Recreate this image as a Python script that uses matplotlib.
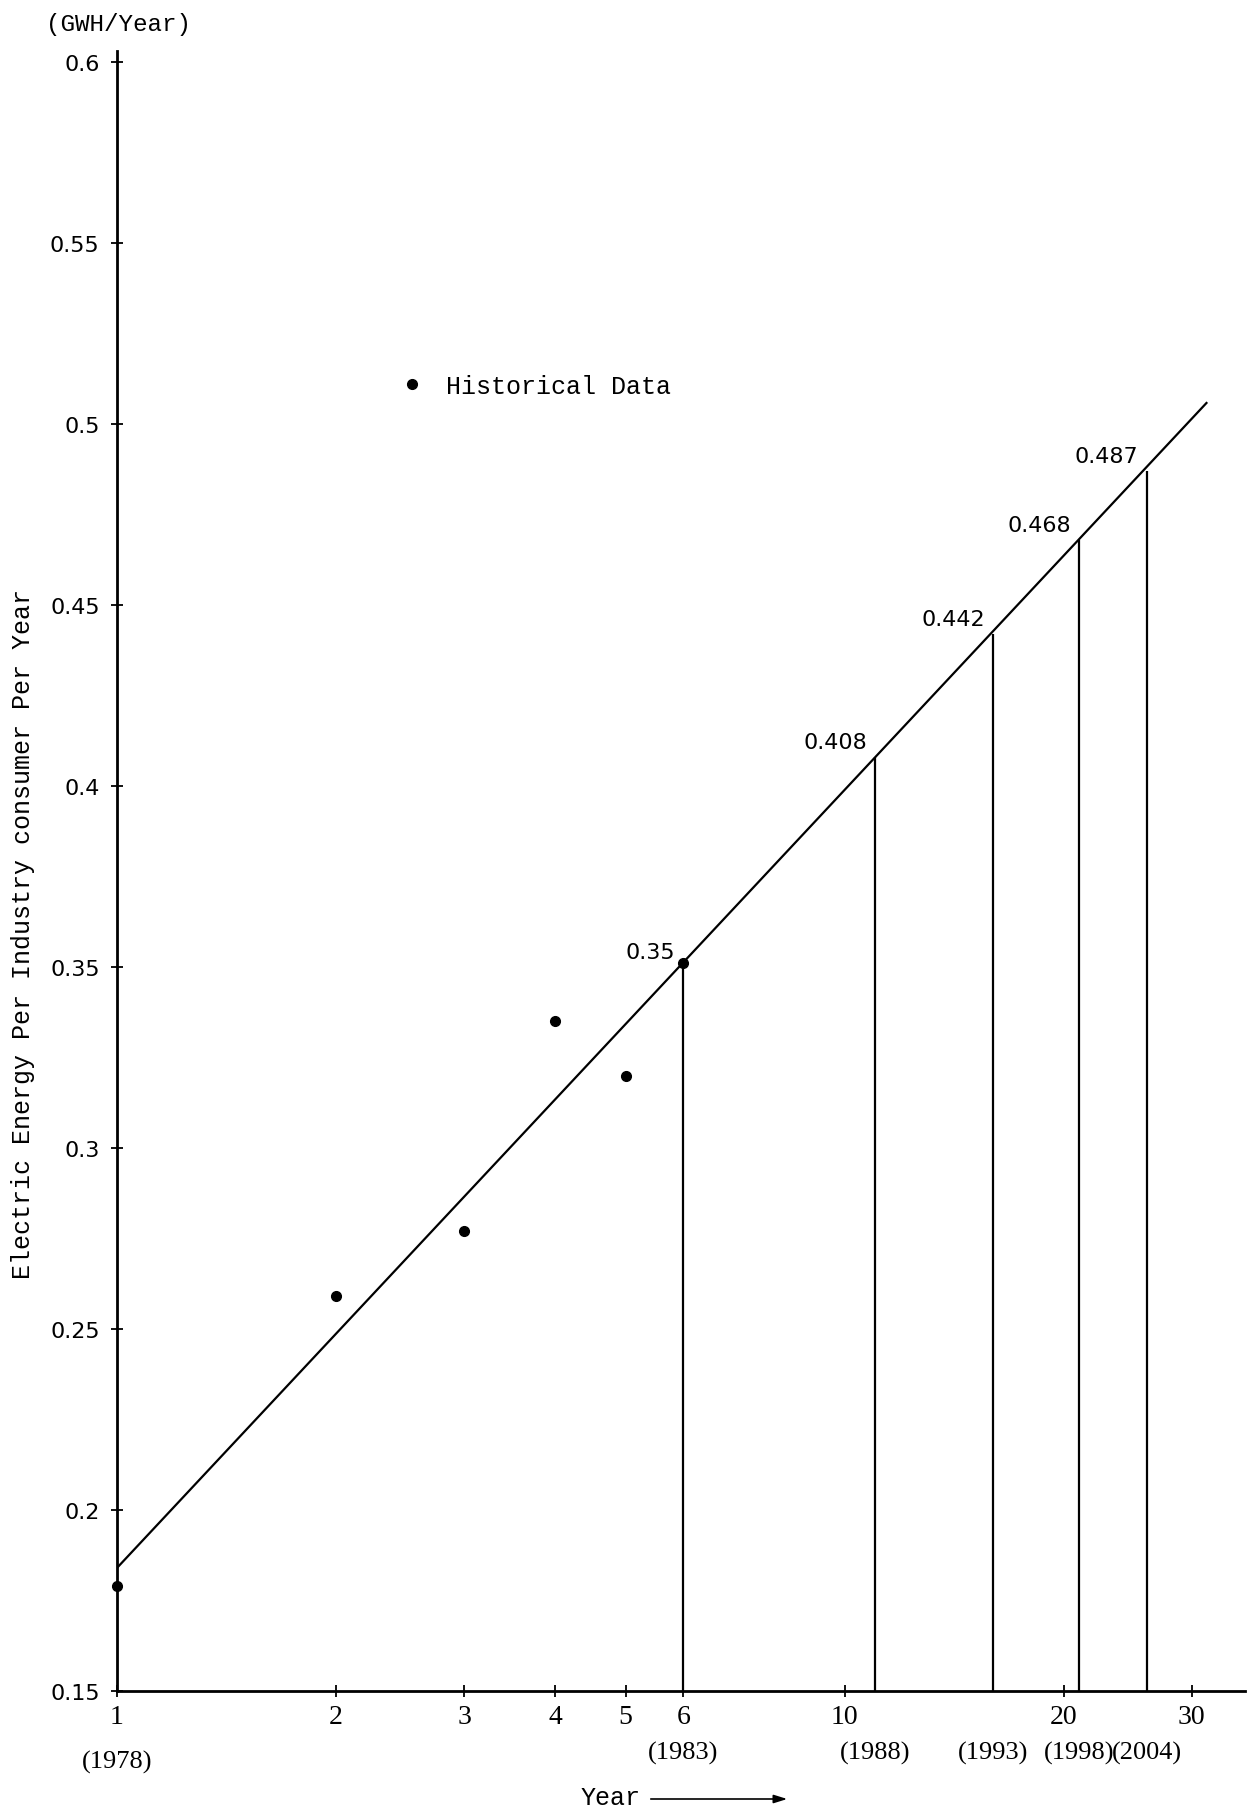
import matplotlib
matplotlib.use("Agg")
import matplotlib.pyplot as plt
from matplotlib.lines import Line2D
from matplotlib.patches import FancyArrowPatch

# Historical consumption per industrial consumer (year index 1 = 1978)
hist_x = [1, 2, 3, 4, 5, 6]
hist_y = [0.179, 0.259, 0.277, 0.335, 0.320, 0.351]

# Fitted trend line (straight on a log year axis)
fit_x = [1, 31.5]
fit_y = [0.184, 0.506]

# Forecast points marked on the trend
fc_x = [6, 11, 16, 21, 26]
fc_y = [0.35, 0.408, 0.442, 0.468, 0.487]
fc_labels = ["0.35", "0.408", "0.442", "0.468", "0.487"]
fc_years = ["(1983)", "(1988)", "(1993)", "(1998)", "(2004)"]
base_year = "(1978)"

x_ticks = [1, 2, 3, 4, 5, 6, 10, 20, 30]
y_ticks = [0.15, 0.2, 0.25, 0.3, 0.35, 0.4, 0.45, 0.5, 0.55, 0.6]
y_tick_labels = ["0.15", "0.2", "0.25", "0.3", "0.35", "0.4", "0.45", "0.5", "0.55", "0.6"]

MONO = "Liberation Mono"
SERIF = "Liberation Serif"
SANS = "DejaVu Sans"

W, H = 1247, 1815
fig = plt.figure(figsize=(W / 100, H / 100), dpi=100)
ax = fig.add_axes([117 / W, 123 / H, 1128 / W, 1640 / H])

ax.set_xscale("log")
ax.set_xlim(1, 35.5)
ax.set_ylim(0.15, 0.603)

for side in ("top", "right"):
    ax.spines[side].set_visible(False)
for side in ("left", "bottom"):
    ax.spines[side].set_linewidth(2.0)
    ax.spines[side].set_color("black")

ax.set_xticks(x_ticks)
ax.set_xticklabels([str(v) for v in x_ticks], fontfamily=SERIF, fontsize=20)
ax.xaxis.set_minor_locator(matplotlib.ticker.NullLocator())
ax.set_yticks(y_ticks)
ax.set_yticklabels(y_tick_labels, fontfamily=SANS, fontsize=16)
ax.tick_params(axis="both", direction="inout", length=9, width=1.3, color="black")
ax.tick_params(axis="x", pad=5)
ax.tick_params(axis="y", pad=8)

# Trend line
ax.plot(fit_x, fit_y, color="black", lw=1.6, solid_capstyle="butt")

# Historical points
ax.plot(hist_x, hist_y, "o", color="black", ms=7, clip_on=False, zorder=5)

# Forecast drop lines and value labels
ax.vlines(fc_x, 0.15, fc_y, color="black", lw=1.6)
for x, y, lab in zip(fc_x, fc_y, fc_labels):
    ax.annotate(lab, xy=(x, y), xytext=(-8, 5), textcoords="offset pixels",
                ha="right", va="bottom", fontfamily=SANS, fontsize=16)

# Year labels under the axis
ax.annotate(base_year, xy=(1, 0), xycoords=("data", "axes fraction"),
            xytext=(0, -70), textcoords="offset pixels",
            ha="center", va="center", fontfamily=SERIF, fontsize=19)
for x, lab in zip(fc_x, fc_years):
    ax.annotate(lab, xy=(x, 0), xycoords=("data", "axes fraction"),
                xytext=(0, -61), textcoords="offset pixels",
                ha="center", va="center", fontfamily=SERIF, fontsize=19)

# Axis titles
fig.text(118 / W, 1 - 24 / H, "(GWH/Year)", fontfamily=MONO, fontsize=17.5,
         ha="center", va="center")
fig.text(23 / W, 1 - 934 / H, "Electric Energy Per Industry consumer Per Year",
         fontfamily=MONO, fontsize=18, rotation=90, ha="center", va="center")
fig.text(611 / W, 1 - 1798 / H, "Year", fontfamily=MONO, fontsize=18,
         ha="center", va="center")
fig.add_artist(FancyArrowPatch((648 / W, 1 - 1800 / H), (790 / W, 1 - 1800 / H),
                               transform=fig.transFigure, arrowstyle="-|>,head_length=8,head_width=2.5",
                               color="black", lw=1.2))

# Legend
handle = Line2D([], [], ls="none", marker="o", color="black", ms=7)
ax.legend([handle], ["Historical Data"], loc="center left",
          bbox_to_anchor=(389 / W, 1 - 387 / H), bbox_transform=fig.transFigure,
          frameon=False, borderpad=0, handlelength=0.8, handletextpad=1.0,
          prop={"family": MONO, "size": 18})

fig.savefig("out.png", dpi=100)
